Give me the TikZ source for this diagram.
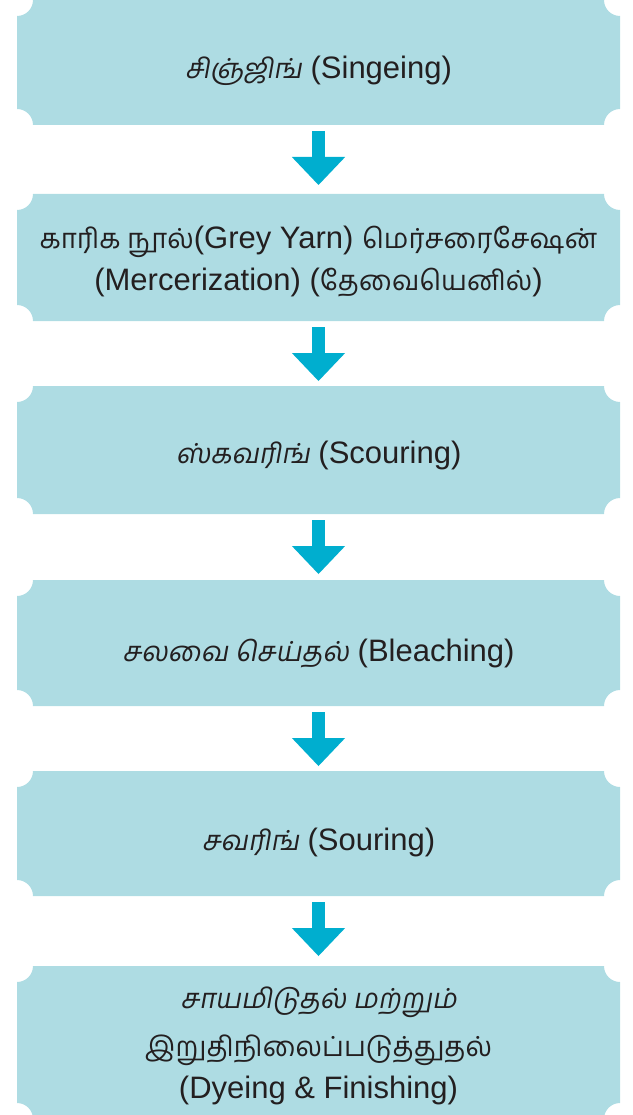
\documentclass[tikz,border=0pt]{standalone}
\usepackage{fontspec}
\setmainfont{Liberation Sans}
\newfontfamily\tam[Script=Tamil,Scale=0.89]{Hind Madurai}
\newfontfamily\tamsl[Script=Tamil,Scale=0.89,FakeSlant=0.18]{Hind Madurai}
\usetikzlibrary{calc,arrows.meta}
\definecolor{boxc}{RGB}{174,220,227}
\definecolor{arrc}{RGB}{0,174,207}
\definecolor{txtc}{RGB}{35,31,32}
\newcommand\scallopfill[1]{%
  \fill[boxc] ($(#1.north west)+(16pt,0pt)$) -- ($(#1.north east)+(-16pt,0pt)$)
    arc[start angle=180,end angle=270,radius=16pt]
    -- ($(#1.south east)+(0pt,16pt)$)
    arc[start angle=90,end angle=180,radius=16pt]
    -- ($(#1.south west)+(16pt,0pt)$)
    arc[start angle=0,end angle=90,radius=16pt]
    -- ($(#1.north west)+(0pt,-16pt)$)
    arc[start angle=270,end angle=360,radius=16pt] -- cycle;}
\begin{document}
\begin{tikzpicture}[x=1pt,y=1pt,
  boxnode/.style={rectangle,inner sep=0pt,outer sep=0pt,minimum width=603pt},
  lbl/.style={anchor=base,inner sep=0pt,text=txtc,font=\fontsize{31}{37}\selectfont},
  flow/.style={draw=arrc,line width=13.3pt,shorten <=6pt,
    -{Triangle[width=53.3pt,length=28pt,line width=0pt,fill=arrc]}}]
\useasboundingbox (0,0) rectangle (632,-1115);
\clip (0,0) rectangle (632,-1115);
\node[boxnode,minimum height=125pt] (b1) at (318.5,-62.5) {};
\node[boxnode,minimum height=127pt] (b2) at (318.5,-257.5) {};
\node[boxnode,minimum height=128pt] (b3) at (318.5,-450) {};
\node[boxnode,minimum height=126pt] (b4) at (318.5,-643) {};
\node[boxnode,minimum height=125pt] (b5) at (318.5,-833.5) {};
\node[boxnode,minimum height=153pt] (b6) at (318.5,-1042.5) {};
\foreach \b in {b1,b2,b3,b4,b5,b6}{\scallopfill{\b}}
\node[lbl] (t1) at (318.5,-79) {{\tamsl சிஞ்ஜிங்} (Singeing)};
\node[lbl] (t2a) at (318.5,-248) {{\tam காரிக நூல்}(Grey Yarn) {\tam மெர்சரைசேஷன்}};
\node[lbl] (t2b) at (318.5,-290) {(Mercerization) ({\tam தேவையெனில்})};
\node[lbl] (t3) at (318.5,-463) {{\tamsl ஸ்கவரிங்} (Scouring)};
\node[lbl] (t4) at (318.5,-661) {{\tamsl சலவை செய்தல்} (Bleaching)};
\node[lbl] (t5) at (318.5,-850) {{\tamsl சவரிங்} (Souring)};
\node[lbl] (t6a) at (318.5,-1008) {{\tamsl சாயமிடுதல் மற்றும்}};
\node[lbl] (t6b) at (318.5,-1056) {{\tam இறுதிநிலைப்படுத்துதல்}};
\node[lbl] (t6c) at (318.5,-1098) {(Dyeing \& Finishing)};
\draw[flow,shorten >=9pt] (b1.south) -- (b2.north);
\draw[flow,shorten >=5pt] (b2.south) -- (b3.north);
\draw[flow,shorten >=6pt] (b3.south) -- (b4.north);
\draw[flow,shorten >=5pt] (b4.south) -- (b5.north);
\draw[flow,shorten >=10pt] (b5.south) -- (b6.north);
\end{tikzpicture}
\end{document}
